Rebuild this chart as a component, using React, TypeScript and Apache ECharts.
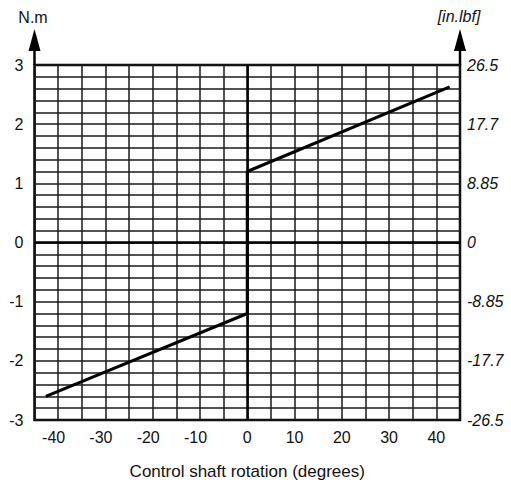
import React, { useEffect, useRef } from "react";
import * as echarts from "echarts";

const xTicks = [-40, -30, -20, -10, 0, 10, 20, 30, 40];
const leftLabels = ["-3", "-2", "-1", "0", "1", "2", "3"];
const rightLabels = ["-26.5", "-17.7", "-8.85", "0", "8.85", "17.7", "26.5"];
const rotationDeg = [-42.6, 0, 0, 42.8];
const torqueNm = [-2.6, -1.2, 1.2, 2.63];

const FONT = "'Liberation Sans', Arial, sans-serif";

export default function App() {
  const ref = useRef<HTMLDivElement>(null);
  useEffect(() => {
    document.body.style.margin = "0";
    const chart = echarts.init(ref.current!, null, { renderer: "svg" });
    const gl = 34.5, gt = 65, gr = 460, gb = 420;
    const arrow = (x: number) => [
      { type: "line", shape: { x1: x, y1: gt, x2: x, y2: 45 }, style: { stroke: "#000", lineWidth: 2.5 } },
      { type: "polygon", shape: { points: [[x, 29], [x - 6, 51], [x + 6, 51]] }, style: { fill: "#000" } },
    ];
    const gridLine = { color: "#1a1a1a", width: 1.5 };
    chart.setOption({
      animation: false,
      backgroundColor: "#fff",
      textStyle: { fontFamily: FONT },
      grid: { left: gl, top: gt, right: 511 - gr, bottom: 486 - gb, show: true, borderColor: "#000", borderWidth: 2.5 },
      xAxis: {
        type: "value",
        min: -45,
        max: 45,
        interval: 5,
        axisLine: { show: false },
        axisTick: { show: false },
        splitLine: { show: true, lineStyle: gridLine },
        axisLabel: {
          margin: 9,
          fontSize: 16,
          color: "#111",
          fontFamily: FONT,
          formatter: (v: number) => {
            const r = Math.round(v);
            if (!xTicks.includes(r)) return "";
            return r < 0 ? `{n|${r}}` : `${r}`;
          },
          rich: { n: { padding: [0, 9, 0, 0], fontSize: 16, fontFamily: FONT, color: "#111" } },
        },
        name: "Control shaft rotation (degrees)",
        nameLocation: "middle",
        nameGap: 43,
        nameTextStyle: { fontSize: 17, color: "#111", fontFamily: FONT },
      },
      yAxis: [
        {
          type: "value",
          min: -3,
          max: 3,
          interval: 1,
          axisLine: { show: false },
          axisTick: { show: false },
          minorTick: { show: false, splitNumber: 5 },
          splitLine: { show: true, lineStyle: gridLine },
          minorSplitLine: { show: true, lineStyle: gridLine },
          axisLabel: {
            margin: 11,
            fontSize: 16,
            color: "#111",
            fontFamily: FONT,
            formatter: (v: number) => leftLabels[Math.round(v) + 3] ?? "",
          },
        },
        {
          type: "value",
          position: "right",
          min: -3,
          max: 3,
          interval: 1,
          axisLine: { show: false },
          axisTick: { show: false },
          splitLine: { show: false },
          axisLabel: {
            margin: 7,
            fontSize: 16,
            fontStyle: "italic",
            color: "#111",
            fontFamily: FONT,
            formatter: (v: number) => rightLabels[Math.round(v) + 3] ?? "",
          },
        },
      ],
      graphic: [
        ...arrow(gl),
        ...arrow(gr),
        { type: "text", x: 33, y: 17, style: { text: "N.m", fontSize: 16, fontFamily: FONT, fill: "#111", align: "center", verticalAlign: "middle" } },
        { type: "text", x: 459, y: 16, style: { text: "[in.lbf]", fontSize: 16, fontStyle: "italic", fontFamily: FONT, fill: "#111", align: "center", verticalAlign: "middle" } },
      ],
      series: [
        {
          type: "line",
          data: rotationDeg.map((x, i) => [x, torqueNm[i]]),
          symbol: "none",
          lineStyle: { color: "#000", width: 3 },
          markLine: {
            silent: true,
            symbol: "none",
            label: { show: false },
            lineStyle: { color: "#000", width: 2.5, type: "solid" },
            data: [{ xAxis: 0 }, { yAxis: 0 }],
          },
          z: 3,
        },
      ],
    });
    return () => chart.dispose();
  }, []);
  return <div ref={ref} style={{ width: 511, height: 486 }} />;
}
